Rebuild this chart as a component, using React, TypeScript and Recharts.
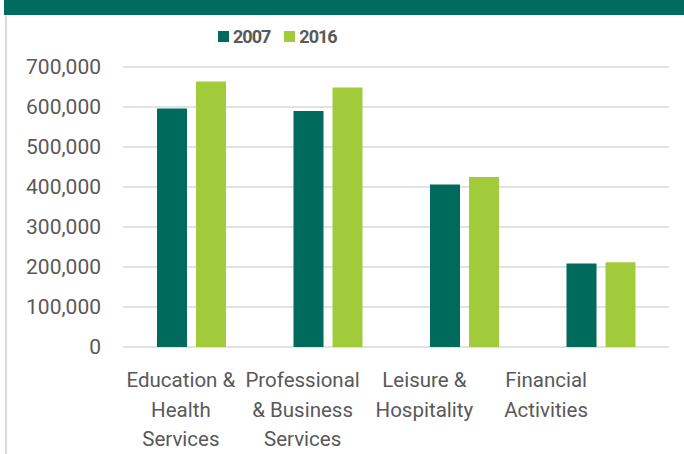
import { BarChart, Bar, XAxis, YAxis, CartesianGrid, Legend } from 'recharts';

const industries = [
  ['Education &', 'Health', 'Services'],
  ['Professional', '& Business', 'Services'],
  ['Leisure &', 'Hospitality'],
  ['Financial', 'Activities'],
];
const jobs2007 = [596000, 590000, 406000, 208500];
const jobs2016 = [664000, 649000, 425000, 212000];
const yTicks = [0, 100000, 200000, 300000, 400000, 500000, 600000, 700000];

const DARK = '#006B5D';
const LIGHT = '#A2CB3C';
const TEXT = '#595959';

const data = industries.map((lines, i) => ({
  name: lines.join(' '),
  lines,
  y2007: jobs2007[i],
  y2016: jobs2016[i],
}));

const CategoryTick = (props: any) => {
  const { x, y, index } = props;
  const lines = industries[index] || [];
  return (
    <text x={x} y={y} textAnchor="middle" fill={TEXT} fontSize={20.5} fontFamily="Roboto">
      {lines.map((l, i) => (
        <tspan key={i} x={x} dy={i === 0 ? 38 : 29.5}>
          {l}
        </tspan>
      ))}
    </text>
  );
};

const LegendBox = () => (
  <div style={{ display: 'flex', alignItems: 'center', fontFamily: 'Roboto', fontWeight: 700, fontSize: 18, color: TEXT, letterSpacing: -1 }}>
    {[
      { label: '2007', color: DARK },
      { label: '2016', color: LIGHT },
    ].map((it, i) => (
      <div key={it.label} style={{ display: 'flex', alignItems: 'center', marginLeft: i === 0 ? 0 : 14 }}>
        <span style={{ display: 'inline-block', width: 11, height: 11, background: it.color, marginRight: 4 }} />
        <span>{it.label}</span>
      </div>
    ))}
  </div>
);

export default function App() {
  return (
    <div style={{ position: 'absolute', left: 0, top: 0, width: 684, height: 454, background: '#fff', overflow: 'hidden' }}>
      <div style={{ position: 'absolute', left: 4, top: 0, width: 680, height: 15, background: '#006B5E' }} />
      <div style={{ position: 'absolute', left: 5, top: 15, width: 2, height: 439, background: '#DADADA' }} />
      <BarChart
        width={684}
        height={454}
        data={data}
        margin={{ top: 67, right: 15, bottom: 7, left: 0 }}
        barSize={30}
        barGap={9}
      >
        <CartesianGrid vertical={false} stroke="#D9D9D9" strokeWidth={1.5} />
        <XAxis dataKey="name" hide height={0} />
        <XAxis
          xAxisId="labels"
          dataKey="name"
          height={100}
          padding={{ left: -3, right: 62 }}
          axisLine={false}
          tickLine={false}
          tickSize={0}
          interval={0}
          tick={<CategoryTick />}
        />
        <YAxis
          width={123}
          domain={[0, 700000]}
          ticks={yTicks}
          axisLine={false}
          tickLine={false}
          tickSize={0}
          tickMargin={22}
          tick={{ fill: TEXT, fontSize: 21, fontFamily: 'Roboto' }}
          tickFormatter={(v: number) => v.toLocaleString('en-US')}
        />
        <Legend
          layout="horizontal"
          verticalAlign="middle"
          content={<LegendBox />}
          wrapperStyle={{ top: 26, left: 218, width: 'auto' }}
        />
        <Bar dataKey="y2007" name="2007" fill={DARK} isAnimationActive={false} />
        <Bar dataKey="y2016" name="2016" fill={LIGHT} isAnimationActive={false} />
      </BarChart>
    </div>
  );
}
